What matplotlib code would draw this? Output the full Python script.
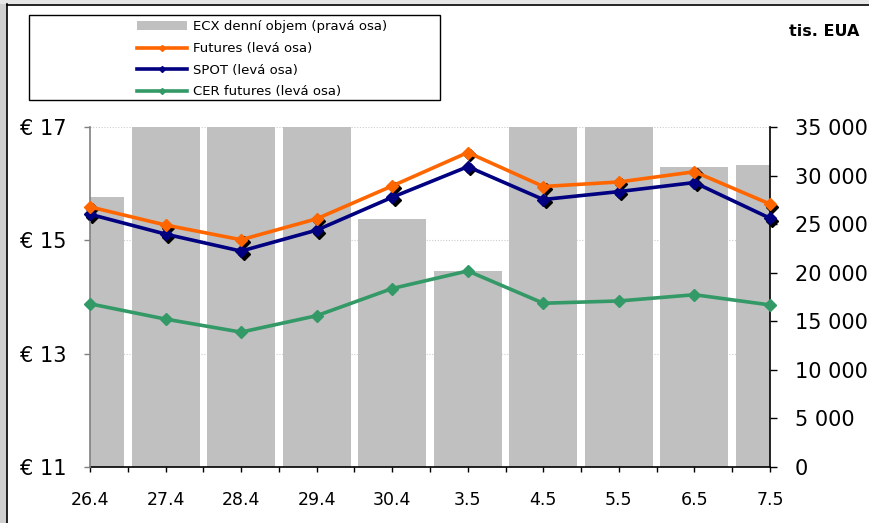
import matplotlib
matplotlib.use("Agg")
import matplotlib.pyplot as plt
import matplotlib.transforms as mtransforms
from matplotlib.patches import Rectangle, Patch
from matplotlib.lines import Line2D
from matplotlib.ticker import FixedLocator
import numpy as np

plt.rcParams['font.family'] = ['DejaVu Sans']

categories = ["26.4", "27.4", "28.4", "29.4", "30.4", "3.5", "4.5", "5.5", "6.5", "7.5"]
volume_ecx = [27760, 38000, 38000, 38000, 25530, 20180, 38000, 38000, 30850, 31120]
futures = [15.59, 15.27, 15.01, 15.38, 15.96, 16.55, 15.95, 16.03, 16.21, 15.64]
spot = [15.46, 15.11, 14.81, 15.18, 15.76, 16.30, 15.72, 15.86, 16.02, 15.39]
cer_futures = [13.88, 13.61, 13.38, 13.67, 14.15, 14.46, 13.89, 13.93, 14.04, 13.86]

left_ticks = [11, 13, 15, 17]
left_labels = ["€ 11", "€ 13", "€ 15", "€ 17"]
right_ticks = [0, 5000, 10000, 15000, 20000, 25000, 30000, 35000]
right_labels = ["0", "5 000", "10 000", "15 000", "20 000", "25 000", "30 000", "35 000"]

W, H = 870, 523
fig = plt.figure(figsize=(W / 100, H / 100), dpi=100)

# window-like frame
fig.patches.append(Rectangle((0, 0), 7 / W, 1, transform=fig.transFigure,
                             facecolor="#cfcfcf", edgecolor="none", zorder=0))
fig.patches.append(Rectangle((0, 1 - 4 / H), 1, 4 / H, transform=fig.transFigure,
                             facecolor="#e6e6e6", edgecolor="none", zorder=0))
fig.lines.append(Line2D([7.5 / W, 7.5 / W], [0, 1 - 4 / H], transform=fig.transFigure,
                        color="black", lw=1.2))
fig.lines.append(Line2D([7.5 / W, 1], [1 - 4.5 / H, 1 - 4.5 / H], transform=fig.transFigure,
                        color="black", lw=1.2))

x = np.arange(len(categories))
left, right, bottom, top = 90 / W, 770 / W, 1 - 467 / H, 1 - 127 / H
ax_bar = fig.add_axes([left, bottom, right - left, top - bottom])
ax = ax_bar.twinx()

# bars on right axis
ax_bar.bar(x, volume_ecx, width=0.9, color="#c0c0c0", edgecolor="none", zorder=1)
ax_bar.set_ylim(0, 35000)
ax_bar.set_xlim(0, len(categories) - 1)
ax_bar.yaxis.tick_right()
ax_bar.set_yticks(right_ticks)
ax_bar.set_yticklabels(right_labels, fontsize=15)
ax_bar.tick_params(axis="y", direction="out", length=5, width=1, pad=13, colors="black")

# grid for left axis (behind lines)
for t in left_ticks:
    ax_bar.axhline((t - 11) / 6 * 35000, color="#cccccc", lw=0.8, ls=(0, (1, 1.5)), zorder=0.5)

# x axis (shared) handled on the bar axes
ax_bar.set_xticks(x)
ax_bar.set_xticklabels(categories, fontsize=12.5)
ax_bar.xaxis.set_minor_locator(FixedLocator(x[:-1] + 0.5))
ax_bar.tick_params(axis="x", which="both", direction="out", length=3.6, width=1,
                   colors="black", pad=14)

# lines on left axis
ax.yaxis.tick_left()
ax.set_ylim(11, 17)
ax.set_yticks(left_ticks)
ax.set_yticklabels(left_labels, fontsize=15)
ax.tick_params(axis="y", direction="out", length=4.3, width=1, pad=12.7,
               colors="#808080", labelcolor="black")

shadow = mtransforms.offset_copy(ax.transData, fig=fig, x=2.5, y=-2.5, units="dots")
for series in (futures, spot):
    ax.plot(x, series, ls="none", marker="D", ms=6.5, color="black", transform=shadow,
            clip_on=False, zorder=2)

ax.plot(x, cer_futures, color="#339966", lw=2.6, marker="D", ms=6.5, clip_on=False, zorder=3)
ax.plot(x, spot, color="#000080", lw=2.6, marker="D", ms=6.5, clip_on=False, zorder=4)
ax.plot(x, futures, color="#ff6600", lw=2.6, marker="D", ms=6.5, clip_on=False, zorder=5)

for a in (ax, ax_bar):
    a.spines["top"].set_visible(False)
    a.patch.set_visible(False)
ax.spines["left"].set_color("#808080")
ax.spines["left"].set_linewidth(1.2)
ax.spines["right"].set_visible(False)
ax.spines["bottom"].set_visible(False)
ax_bar.spines["left"].set_visible(False)
ax_bar.spines["right"].set_color("black")
ax_bar.spines["right"].set_linewidth(1.2)
ax_bar.spines["bottom"].set_color("black")
ax_bar.spines["bottom"].set_linewidth(1.2)

# legend box
fig.patches.append(Rectangle((29 / W, 1 - 100 / H), 411 / W, 85 / H, transform=fig.transFigure,
                             facecolor="white", edgecolor="black", lw=1, zorder=1))
handles = [
    Patch(facecolor="#c0c0c0", edgecolor="none"),
    Line2D([], [], color="#ff6600", lw=2.6, marker="D", ms=3),
    Line2D([], [], color="#000080", lw=2.6, marker="D", ms=3),
    Line2D([], [], color="#339966", lw=2.6, marker="D", ms=3),
]
labels = ["ECX denní objem (pravá osa)", "Futures (levá osa)", "SPOT (levá osa)",
          "CER futures (levá osa)"]
leg = fig.legend(handles, labels, loc="upper left", bbox_to_anchor=(132 / W, 1 - 15 / H),
                 frameon=False, fontsize=9.5, handlelength=3.8, handleheight=0.6,
                 handletextpad=0.4, labelspacing=0.66, borderaxespad=0)

fig.text(824 / W, 1 - 32 / H, "tis. EUA", fontsize=11.5, fontweight="bold",
         ha="center", va="center")

fig.savefig("out.png", dpi=100)
